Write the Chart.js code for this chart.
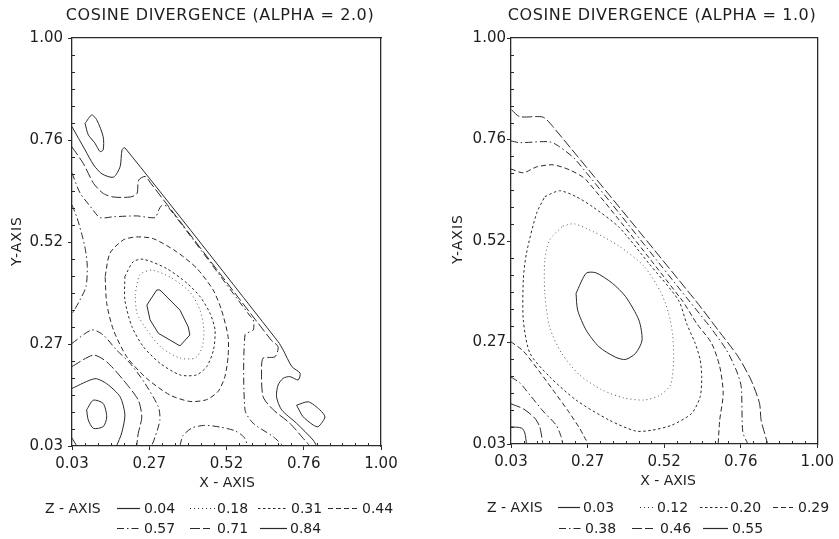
<!DOCTYPE html>
<html>
<head>
<meta charset="utf-8">
<script src="https://cdn.jsdelivr.net/npm/chart.js@4.4.1/dist/chart.umd.min.js"></script>
<style>
  body { margin: 0; background: #fff; }
  #page { position: relative; width: 839px; height: 539px; overflow: hidden; background: #fff;
          font-family: "DejaVu Sans", "Liberation Sans", sans-serif; color: #1e1e1e; }
  #page canvas { position: absolute; top: 0; }
  .lbl { position: absolute; white-space: nowrap; font-weight: normal; line-height: 1; }
</style>
</head>
<body>
<div id="page">
  <canvas id="chartA" width="420" height="539" style="left:0"></canvas>
  <canvas id="chartB" width="419" height="539" style="left:420px"></canvas>
  <svg id="keys" width="839" height="539" style="position:absolute;left:0;top:0"></svg>
</div>
<script>
// contour levels (z values) for each panel
const LEVELS_A = ['0.04', '0.18', '0.31', '0.44', '0.57', '0.71', '0.84'];
const LEVELS_B = ['0.03', '0.12', '0.20', '0.29', '0.38', '0.46', '0.55'];

// axis ticks
const TICK_VALUES = [0.03, 0.2725, 0.515, 0.7575, 1.00];
const TICK_LABELS = ['0.03', '0.27', '0.52', '0.76', '1.00'];

// ---- panel A (alpha = 2.0), contour polylines [x, y]
const a_center = [[0.265,0.365],[0.296,0.401],[0.306,0.401],[0.369,0.353],[0.395,0.313],[0.400,0.294],[0.369,0.268],[0.301,0.298],[0.275,0.330],[0.265,0.365]];
const a_ring1 = [[0.228,0.389],[0.243,0.437],[0.281,0.448],[0.344,0.429],[0.400,0.396],[0.432,0.353],[0.444,0.306],[0.438,0.263],[0.416,0.239],[0.369,0.239],[0.312,0.263],[0.265,0.306],[0.234,0.346],[0.228,0.389]];
const a_ring2 = [[0.196,0.433],[0.222,0.468],[0.254,0.474],[0.327,0.452],[0.391,0.417],[0.432,0.385],[0.463,0.346],[0.479,0.306],[0.474,0.258],[0.453,0.219],[0.421,0.199],[0.369,0.199],[0.306,0.227],[0.254,0.266],[0.218,0.314],[0.196,0.377],[0.196,0.433]];
const a_ring3 = [[0.134,0.433],[0.149,0.488],[0.191,0.520],[0.233,0.527],[0.285,0.523],[0.358,0.492],[0.421,0.453],[0.473,0.401],[0.499,0.354],[0.520,0.290],[0.520,0.243],[0.510,0.195],[0.489,0.160],[0.452,0.140],[0.400,0.136],[0.338,0.151],[0.264,0.191],[0.202,0.242],[0.160,0.306],[0.139,0.369],[0.134,0.433]];
const a_leftBump = [[0.030,0.603],[0.046,0.572],[0.062,0.530],[0.072,0.497],[0.078,0.457],[0.074,0.409],[0.055,0.377],[0.032,0.346]];
const a_bottomArc = [[0.369,0.030],[0.378,0.054],[0.407,0.073],[0.447,0.079],[0.495,0.075],[0.542,0.066],[0.570,0.051],[0.582,0.030]];
const a_edge3 = [[0.030,0.679],[0.055,0.632],[0.087,0.600],[0.118,0.573],[0.160,0.575],[0.233,0.577],[0.291,0.573],[0.301,0.589],[0.312,0.602],[0.332,0.598],[0.589,0.339],[0.599,0.330],[0.599,0.306],[0.573,0.294],[0.573,0.116],[0.599,0.084],[0.662,0.052],[0.693,0.030]];
const a_edge2 = [[0.030,0.741],[0.066,0.701],[0.098,0.654],[0.129,0.630],[0.160,0.622],[0.213,0.622],[0.234,0.630],[0.239,0.662],[0.260,0.671],[0.275,0.657],[0.655,0.282],[0.677,0.266],[0.667,0.242],[0.630,0.239],[0.625,0.211],[0.630,0.147],[0.662,0.116],[0.714,0.084],[0.756,0.048],[0.777,0.030]];
const a_edge1 = [[0.030,0.789],[0.071,0.734],[0.098,0.698],[0.124,0.677],[0.160,0.669],[0.181,0.694],[0.187,0.734],[0.196,0.739],[0.677,0.278],[0.693,0.258],[0.720,0.219],[0.746,0.203],[0.740,0.187],[0.714,0.195],[0.693,0.191],[0.677,0.175],[0.672,0.147],[0.688,0.116],[0.735,0.084],[0.787,0.044],[0.798,0.030]];
const a_petal = [[0.071,0.797],[0.092,0.817],[0.108,0.805],[0.128,0.765],[0.128,0.734],[0.118,0.730],[0.102,0.750],[0.081,0.770],[0.071,0.797]];
const a_low1 = [[0.030,0.274],[0.092,0.306],[0.128,0.294],[0.170,0.258],[0.212,0.227],[0.259,0.179],[0.301,0.123],[0.306,0.092],[0.291,0.052],[0.280,0.030]];
const a_low2 = [[0.030,0.219],[0.097,0.246],[0.139,0.230],[0.191,0.187],[0.238,0.139],[0.249,0.099],[0.238,0.060],[0.233,0.030]];
const a_low3 = [[0.030,0.167],[0.102,0.190],[0.139,0.178],[0.181,0.147],[0.196,0.104],[0.186,0.061],[0.170,0.030]];
const a_loopLeft = [[0.076,0.116],[0.097,0.139],[0.128,0.131],[0.139,0.099],[0.128,0.076],[0.097,0.072],[0.081,0.092],[0.076,0.116]];
const a_loopRight = [[0.735,0.127],[0.772,0.135],[0.808,0.116],[0.824,0.099],[0.803,0.076],[0.787,0.080],[0.755,0.100],[0.735,0.127]];
const a_corner = [[0.030,0.049],[0.045,0.030]];

// ---- panel B (alpha = 1.0)
const b_center = [[0.236,0.390],[0.268,0.438],[0.299,0.439],[0.351,0.414],[0.393,0.382],[0.435,0.326],[0.445,0.278],[0.425,0.247],[0.393,0.232],[0.362,0.237],[0.309,0.262],[0.268,0.302],[0.241,0.350],[0.236,0.390]];
const b_ring1 = [[0.194,0.551],[0.231,0.556],[0.294,0.536],[0.372,0.503],[0.451,0.455],[0.504,0.393],[0.529,0.343],[0.542,0.290],[0.545,0.231],[0.535,0.171],[0.498,0.145],[0.451,0.135],[0.388,0.140],[0.319,0.159],[0.247,0.195],[0.190,0.247],[0.152,0.310],[0.137,0.391],[0.137,0.470],[0.152,0.517],[0.194,0.551]];
const b_ring2 = [[0.137,0.621],[0.184,0.635],[0.236,0.621],[0.288,0.597],[0.372,0.548],[0.466,0.462],[0.560,0.374],[0.586,0.318],[0.613,0.271],[0.629,0.231],[0.634,0.191],[0.629,0.143],[0.602,0.103],[0.539,0.075],[0.477,0.063],[0.425,0.061],[0.341,0.087],[0.236,0.135],[0.152,0.191],[0.090,0.247],[0.069,0.326],[0.069,0.422],[0.079,0.486],[0.111,0.581],[0.137,0.621]];
const b_edge3 = [[0.030,0.687],[0.069,0.678],[0.111,0.692],[0.163,0.697],[0.215,0.685],[0.268,0.661],[0.571,0.374],[0.618,0.318],[0.665,0.271],[0.691,0.215],[0.702,0.151],[0.691,0.087],[0.686,0.030]];
const b_edge2 = [[0.030,0.754],[0.058,0.750],[0.152,0.752],[0.184,0.740],[0.236,0.708],[0.592,0.374],[0.660,0.310],[0.712,0.255],[0.743,0.207],[0.759,0.167],[0.764,0.059],[0.780,0.030]];
const b_edge1 = [[0.032,0.828],[0.058,0.812],[0.131,0.811],[0.163,0.788],[0.613,0.374],[0.686,0.302],[0.749,0.239],[0.790,0.183],[0.817,0.127],[0.822,0.087],[0.833,0.056],[0.843,0.030]];
const b_low1 = [[0.030,0.274],[0.069,0.252],[0.121,0.202],[0.163,0.159],[0.209,0.111],[0.247,0.068],[0.262,0.047],[0.275,0.030]];
const b_low2 = [[0.030,0.190],[0.058,0.176],[0.090,0.147],[0.131,0.109],[0.173,0.075],[0.189,0.047],[0.194,0.030]];
const b_low3 = [[0.030,0.126],[0.069,0.114],[0.105,0.092],[0.121,0.071],[0.131,0.030]];
const b_low4 = [[0.030,0.071],[0.064,0.068],[0.074,0.056],[0.079,0.030]];

// [level index, polyline]
const CONTOURS_A = [
  [0, a_center], [1, a_ring1], [2, a_ring2], [3, a_ring3],
  [4, a_leftBump], [4, a_bottomArc], [4, a_edge3], [4, a_low1],
  [5, a_edge2], [5, a_low2],
  [6, a_edge1], [6, a_low3], [6, a_petal], [6, a_loopLeft], [6, a_loopRight], [6, a_corner]
];
const CONTOURS_B = [
  [0, b_center], [1, b_ring1], [2, b_ring2],
  [3, b_edge3], [3, b_low1],
  [4, b_edge2], [4, b_low2],
  [5, b_edge1], [5, b_low3],
  [6, b_low4]
];

// line style per level
const DASH = [[], [1, 3], [2.5, 2.5], [5, 3], [7, 3, 1.5, 3], [10, 3], []];

// small inward ticks between the labelled ones
const minorValues = [];
for (let k = 1; k < 24; k++) {
  if (k % 6 !== 0) minorValues.push(0.03 + k * 0.2425 / 6);
}

const minorTicks = {
  id: 'minorTicks',
  afterDraw(chart) {
    const {ctx, chartArea, scales} = chart;
    ctx.save();
    ctx.strokeStyle = '#2a2a2a';
    ctx.lineWidth = 1;
    ctx.beginPath();
    minorValues.forEach(v => {
      const px = Math.round(scales.x.getPixelForValue(v)) + 0.5;
      ctx.moveTo(px, chartArea.bottom);
      ctx.lineTo(px, chartArea.bottom - 3);
      const py = Math.round(scales.y.getPixelForValue(v)) + 0.5;
      ctx.moveTo(chartArea.left, py);
      ctx.lineTo(chartArea.left + 3, py);
    });
    ctx.stroke();
    ctx.restore();
  }
};

function contourChart(id, levels, contours, box, smoothCenter) {
  const datasets = contours.map(([lvl, pts]) => ({
    label: levels[lvl],
    data: pts.map(p => ({x: p[0], y: p[1]})),
    showLine: true,
    pointRadius: 0,
    borderWidth: 1,
    borderColor: lvl === 1 ? '#555' : '#2a2a2a',
    borderDash: DASH[lvl],
    tension: (lvl === 0 && !smoothCenter) ? 0 : 0.25
  }));

  const axisFont = {family: '"DejaVu Sans", sans-serif', size: 15, weight: 'normal'};
  const frame = {color: '#2a2a2a', width: 1.3};

  const ctx = document.getElementById(id).getContext('2d');
  return new Chart(ctx, {
    type: 'scatter',
    data: {datasets},
    options: {
      responsive: false,
      animation: false,
      devicePixelRatio: 1,
      events: [],
      layout: {padding: 0},
      plugins: {legend: {display: false}, tooltip: {enabled: false}},
      scales: {
        x: {
          type: 'linear', position: 'bottom', min: 0.03, max: 1.0,
          afterBuildTicks: s => { s.ticks = TICK_VALUES.map(v => ({value: v})); },
          afterFit: s => { s.height = box.bottom; },
          ticks: {
            autoSkip: false, maxRotation: 0, padding: 5, color: '#1e1e1e', font: axisFont,
            callback: (v, i) => TICK_LABELS[i]
          },
          grid: {drawOnChartArea: false, tickLength: 4, color: '#2a2a2a'},
          border: frame
        },
        y: {
          type: 'linear', position: 'left', min: 0.03, max: 1.0,
          afterBuildTicks: s => { s.ticks = TICK_VALUES.map(v => ({value: v})); },
          afterFit: s => { s.width = box.left; },
          ticks: {
            autoSkip: false, padding: box.yPad, color: '#1e1e1e', font: axisFont,
            callback: (v, i) => TICK_LABELS[i]
          },
          grid: {drawOnChartArea: false, tickLength: 4, color: '#2a2a2a'},
          border: frame
        },
        x2: {
          type: 'linear', position: 'top', min: 0.03, max: 1.0,
          afterFit: s => { s.height = box.top; },
          ticks: {display: false},
          grid: {display: false},
          border: frame
        },
        y2: {
          type: 'linear', position: 'right', min: 0.03, max: 1.0,
          afterFit: s => { s.width = box.right; },
          ticks: {display: false},
          grid: {display: false},
          border: frame
        }
      }
    },
    plugins: [minorTicks]
  });
}

contourChart('chartA', LEVELS_A, CONTOURS_A, {left: 72, right: 39, top: 38, bottom: 93, yPad: 5}, false);
contourChart('chartB', LEVELS_B, CONTOURS_B, {left: 91, right: 19, top: 38, bottom: 95, yPad: 1}, true);

// ---- text: titles, axis names, z-axis keys
const page = document.getElementById('page');
function text(s, x, y, size, anchor, rotate, spacing) {
  const d = document.createElement('div');
  d.className = 'lbl';
  d.textContent = s;
  d.style.left = x + 'px';
  d.style.top = y + 'px';
  d.style.fontSize = size + 'px';
  if (spacing) d.style.letterSpacing = spacing + 'px';
  let t = anchor === 'center' ? 'translate(-50%,-50%)' : 'translate(0,-50%)';
  if (rotate) t += ' rotate(-90deg)';
  d.style.transform = t;
  page.appendChild(d);
}

text('COSINE DIVERGENCE (ALPHA = 2.0)', 220, 15, 16, 'center', false, 0.6);
text('COSINE DIVERGENCE (ALPHA = 1.0)', 662, 15, 16, 'center', false, 0.6);
text('Y-AXIS', 16, 241, 14, 'center', true, 1);
text('Y-AXIS', 457, 239, 14, 'center', true, 1);
text('X - AXIS', 227, 482, 14, 'center');
text('X - AXIS', 668, 480, 14, 'center');

// key layout: [line start, line end, text start, row y]
const KEY_POS_A = [[117,140,144,508],[190,215,217,508],[258,288,291,508],[328,358,362,508],[117,140,144,528],[190,210,217,528],[260,287,290,528]];
const KEY_POS_B = [[558,580,583,507],[640,653,657,507],[700,728,730,507],[773,793,798,507],[559,582,585,528],[632,653,660,528],[703,728,732,528]];

const svg = document.getElementById('keys');
function keys(levels, pos, titleX, titleY) {
  text('Z - AXIS', titleX, titleY, 14, 'left');
  levels.forEach((lv, i) => {
    const [x1, x2, tx, y] = pos[i];
    const ln = document.createElementNS('http://www.w3.org/2000/svg', 'line');
    ln.setAttribute('x1', x1); ln.setAttribute('x2', x2);
    ln.setAttribute('y1', y + 0.5); ln.setAttribute('y2', y + 0.5);
    ln.setAttribute('stroke', '#2a2a2a');
    ln.setAttribute('stroke-width', 1.2);
    if (DASH[i].length) ln.setAttribute('stroke-dasharray', DASH[i].join(' '));
    svg.appendChild(ln);
    text(lv, tx, y, 14, 'left');
  });
}
keys(LEVELS_A, KEY_POS_A, 45, 508);
keys(LEVELS_B, KEY_POS_B, 487, 507);
</script>
</body>
</html>
